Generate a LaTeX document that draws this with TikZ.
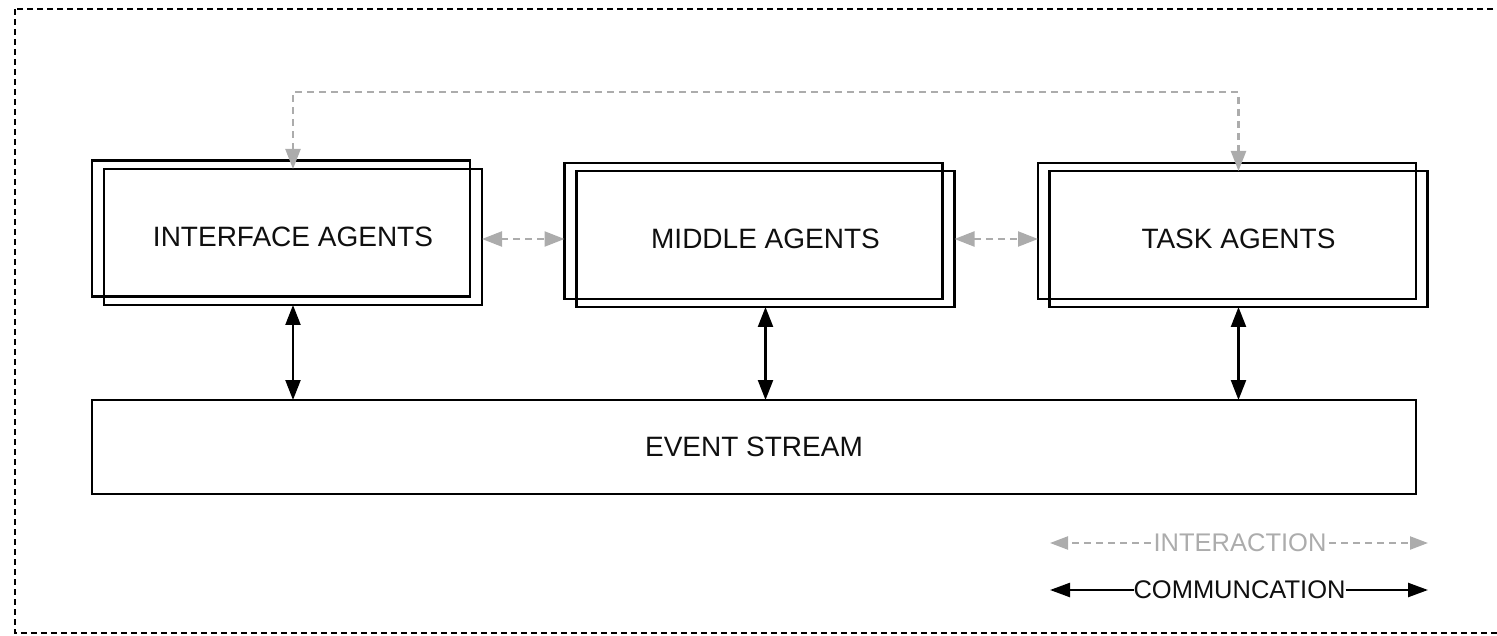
\documentclass[tikz,border=0pt]{standalone}
\usepackage{fontspec}
\setmainfont{Liberation Sans}
\usetikzlibrary{arrows.meta}
\definecolor{intergray}{RGB}{172,172,172}
\definecolor{inktext}{RGB}{15,15,15}
\begin{document}
\begin{tikzpicture}[x=1pt,y=-1pt,
  agentbox/.style={draw=black,line width=2.4pt,inner sep=0pt,outer sep=0pt,
    minimum width=378pt,minimum height=136pt,text=inktext,
    font=\fontsize{28}{32}\selectfont},
  streambox/.style={draw=black,line width=2.4pt,inner sep=0pt,outer sep=0pt,
    minimum width=1324pt,minimum height=94pt,text=inktext,
    font=\fontsize{28}{32}\selectfont},
  inter/.style={draw=intergray,line width=2.3pt,dash pattern=on 7pt off 5pt,
    {Triangle[length=20pt,width=15pt]}-{Triangle[length=20pt,width=15pt]},
    color=intergray},
  interone/.style={draw=intergray,line width=2.2pt,dash pattern=on 7pt off 5pt,
    -{Triangle[length=18pt,width=13pt]},color=intergray},
  comm/.style={draw=black,line width=2.3pt,
    {Triangle[length=20pt,width=15pt]}-{Triangle[length=20pt,width=15pt]}},
  commone/.style={draw=black,line width=2.4pt,-{Triangle[length=20pt,width=14pt]}},
  legtext/.style={inner sep=0pt,outer sep=0pt,font=\fontsize{25.5}{30}\selectfont}
]
\useasboundingbox (0,0) rectangle (1497,636);
% outer dashed frame
\begin{scope}
\clip (0,0) rectangle (1497,636);
\draw[line width=2pt,dash pattern=on 6pt off 4pt] (15,9) rectangle (1520,633);
\end{scope}
% agent boxes (back and front)
\node[agentbox] (iab) at (281,228.5) {};
\node[agentbox] (ia) at (293,237) {INTERFACE AGENTS};
\node[agentbox] (mab) at (753.5,231) {};
\node[agentbox] (ma) at (765.5,239) {MIDDLE AGENTS};
\node[agentbox] (tab) at (1227,231) {};
\node[agentbox] (ta) at (1238.5,239) {TASK AGENTS};
% event stream
\node[streambox] (es) at (754,447) {EVENT STREAM};
% interaction connectors
\coordinate (topleft) at (293,92);
\draw[inter] (ia.north) -- (topleft) -| (ta.north);
\draw[inter] (ia.east |- ma.center) -- (mab.west |- ma.center);
\draw[inter] (ma.east) -- (tab.west |- ma.center);
% communication connectors
\draw[comm] (ia.south) -- (es.north -| ia.south);
\draw[comm] (ma.south) -- (es.north -| ma.south);
\draw[comm] (ta.south) -- (es.north -| ta.south);
% legend
\node[legtext,text=intergray] (li) at (1240,543) {INTERACTION};
\coordinate (lil) at (1050,543);
\coordinate (lir) at (1428,543);
\draw[interone] ([xshift=-3pt]li.west) -- (lil);
\draw[interone] ([xshift=3pt]li.east) -- (lir);
\node[legtext,text=inktext] (lc) at (1239.5,590) {COMMUNCATION};
\coordinate (lcl) at (1050,590);
\coordinate (lcr) at (1428,590);
\draw[commone] (lc.west) -- (lcl);
\draw[commone] (lc.east) -- (lcr);
\end{tikzpicture}
\end{document}
